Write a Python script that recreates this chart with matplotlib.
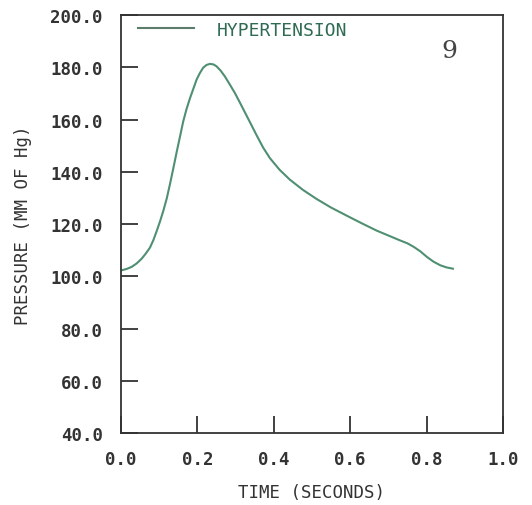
import numpy as np
import matplotlib
matplotlib.use("Agg")
import matplotlib.pyplot as plt

# aortic pressure trace, hypertension case
time_s = [0.002, 0.015, 0.028, 0.041, 0.054, 0.065, 0.076, 0.085, 0.093, 0.102,
          0.111, 0.120, 0.128, 0.137, 0.146, 0.155, 0.163, 0.172, 0.181, 0.190,
          0.198, 0.207, 0.215, 0.224, 0.233, 0.242, 0.250, 0.261, 0.272, 0.285,
          0.298, 0.312, 0.325, 0.340, 0.355, 0.372, 0.390, 0.415, 0.442, 0.476,
          0.512, 0.550, 0.591, 0.630, 0.669, 0.700, 0.731, 0.750, 0.766, 0.784,
          0.801, 0.818, 0.836, 0.852, 0.869]
pressure = [102.3, 102.8, 103.6, 104.9, 106.7, 108.7, 111.0, 113.9, 117.1, 120.9,
            125.1, 129.9, 135.1, 141.3, 147.7, 153.8, 159.3, 164.2, 168.3, 172.0,
            175.3, 177.9, 179.8, 180.9, 181.3, 181.1, 180.4, 178.7, 176.5, 173.4,
            170.2, 166.3, 162.6, 158.3, 154.0, 149.3, 145.2, 140.8, 137.0, 133.1,
            129.6, 126.3, 123.2, 120.3, 117.5, 115.6, 113.7, 112.6, 111.3, 109.5,
            107.4, 105.6, 104.2, 103.4, 102.9]

xticks = [0.0, 0.2, 0.4, 0.6, 0.8, 1.0]
yticks = [40, 60, 80, 100, 120, 140, 160, 180, 200]

line_col = "#4f8f72"
ink = "#333333"
mono = "DejaVu Sans Mono"

fig = plt.figure(figsize=(5.32, 5.06), dpi=100)
ax = fig.add_axes([0.2274, 0.1423, 0.718, 0.826])

ax.plot(time_s, pressure, color=line_col, lw=1.5, label="HYPERTENSION")

ax.set_xlim(0, 1.0)
ax.set_ylim(40, 200)
ax.set_xticks(xticks)
ax.set_yticks(yticks)
ax.set_xticklabels(["%.1f" % v for v in xticks], family=mono, fontsize=12.5, weight="bold", color=ink)
ax.set_yticklabels(["%.1f" % v for v in yticks], family=mono, fontsize=12.5, weight="bold", color=ink)
ax.tick_params(axis="both", direction="in", length=12, width=1.3, color=ink)
ax.tick_params(axis="y", pad=13)
ax.tick_params(axis="x", pad=12)

for s in ax.spines.values():
    s.set_linewidth(1.3)
    s.set_color(ink)

ax.set_xlabel("TIME (SECONDS)", family=mono, fontsize=12.5, color=ink, labelpad=11)
ax.set_ylabel("PRESSURE (MM OF Hg)", family=mono, fontsize=12.5, color=ink, labelpad=13)

leg = ax.legend(loc="upper left", frameon=False, prop={"family": mono, "size": 13},
                handlelength=3.1, handletextpad=1.3, borderaxespad=0.0,
                bbox_to_anchor=(0.025, 1.004))
for t in leg.get_texts():
    t.set_color("#2f6b52")
for h in leg.get_lines():
    h.set_color("#5c7d6c")
    h.set_linewidth(1.5)

ax.text(0.86, 186.5, "9", family="DejaVu Serif", fontsize=18, color="#444444",
        ha="center", va="center")

fig.savefig("out.png", dpi=100)
